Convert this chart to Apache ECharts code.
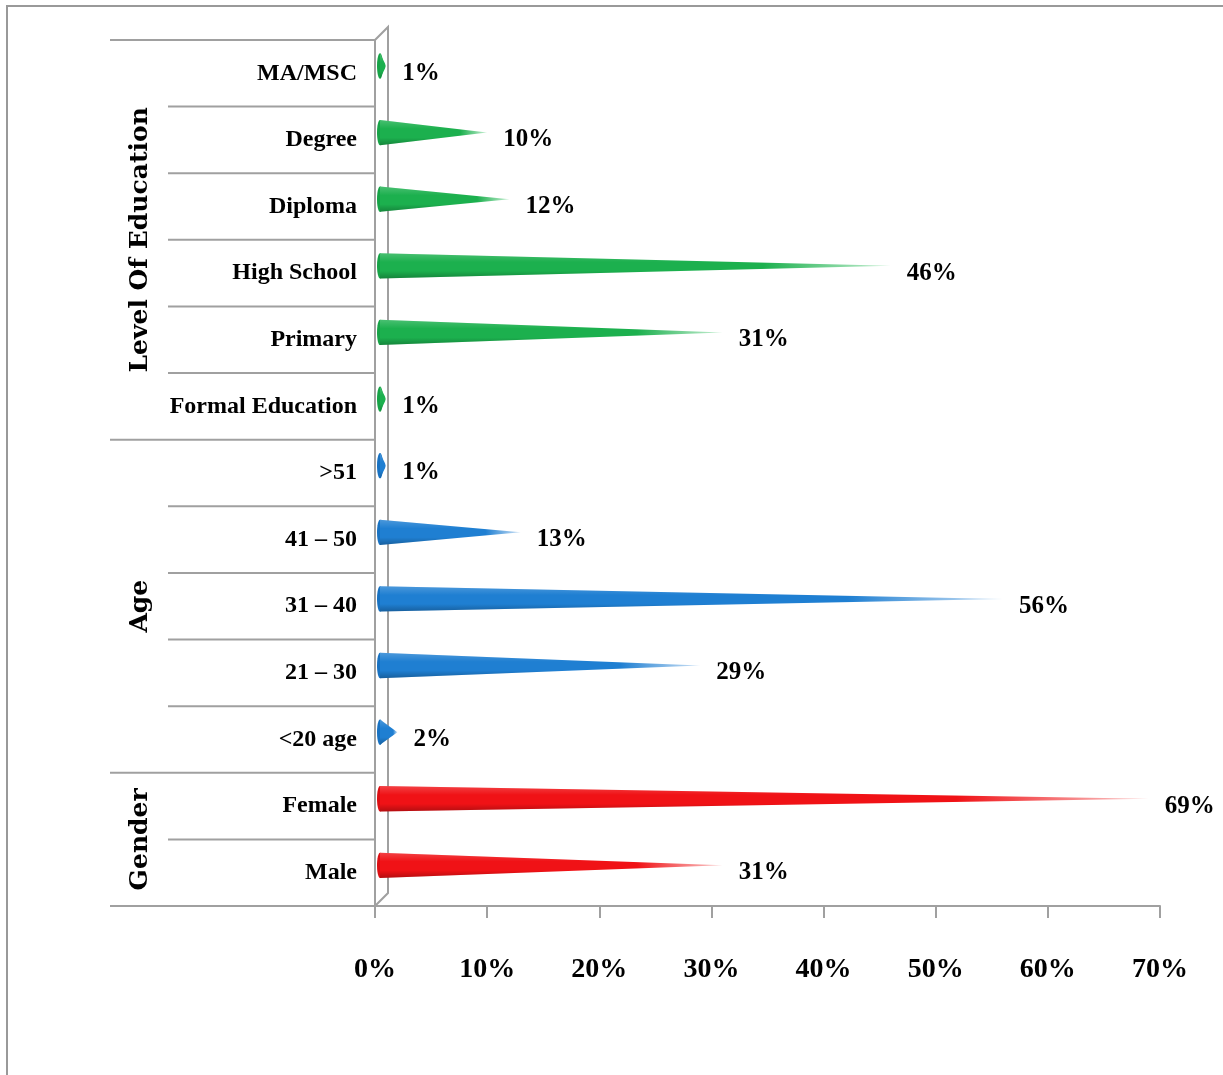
<!DOCTYPE html>
<html lang="en">
<head>
    <meta charset="utf-8">
    <script src="https://cdn.jsdelivr.net/npm/echarts@6/dist/echarts.min.js"></script>
    <title>Respondent profile</title>
    <style>
        html, body { margin: 0; padding: 0; background: #fff; }
        #main { width: 1223px; height: 1075px; }
    </style>
</head>
<body>
<div id="main"></div>
<script>
    // data, top row first
    var categories = ['MA/MSC', 'Degree', 'Diploma', 'High School', 'Primary', 'Formal Education',
        '>51', '41 – 50', '31 – 40', '21 – 30', '<20 age', 'Female', 'Male'];
    var values = [1, 10, 12, 46, 31, 1, 1, 13, 56, 29, 2, 69, 31];
    var groupNames = ['Level Of Education', 'Age', 'Gender'];
    var groupSizes = [6, 5, 2];
    var xTicks = [0, 10, 20, 30, 40, 50, 60, 70];

    var palette = [
        {base: '#17a347', mid: '#1cb04e', tip: '#c9f0d5'},
        {base: '#1872c2', mid: '#1f7fd2', tip: '#cfe3f6'},
        {base: '#dc0f13', mid: '#f01216', tip: '#fbd0d0'}
    ];

    // which group every row belongs to
    var rowGroup = [];
    groupSizes.forEach(function (n, g) {
        for (var k = 0; k < n; k++) rowGroup.push(g);
    });

    var serif = '"Liberation Serif", "Times New Roman", serif';
    var grey = '#a0a0a0';

    function renderCone(params, api) {
        var idx = api.value(0);
        var val = api.value(1);
        var p0 = api.coord([0, idx]);
        var p1 = api.coord([val, idx]);
        var band = api.size([0, 1])[1];
        var h = band * 0.38;
        var cy = p0[1] - band * 0.11;   // bars sit on the back plane
        var x0 = p0[0] + 5;
        var tipX = p1[0];
        var c = palette[rowGroup[idx]];
        return {
            type: 'group',
            children: [{
                type: 'ellipse',
                shape: {cx: x0, cy: cy, rx: Math.min(3, (tipX - x0) / 2 + 1), ry: h / 2},
                style: {fill: c.base}
            }, {
                type: 'polygon',
                shape: {points: [[x0, cy - h / 2], [tipX, cy], [x0, cy + h / 2]]},
                style: {
                    fill: new echarts.graphic.LinearGradient(0, 0, 1, 0, [
                        {offset: 0, color: c.mid},
                        {offset: 0.75, color: c.mid},
                        {offset: 1, color: c.tip}
                    ])
                }
            }, {
                type: 'polygon',
                shape: {points: [[x0, cy - h / 2], [tipX, cy], [x0, cy + h / 2]]},
                style: {
                    fill: new echarts.graphic.LinearGradient(0, 0, 0, 1, [
                        {offset: 0, color: 'rgba(255,255,255,0.2)'},
                        {offset: 0.35, color: 'rgba(255,255,255,0)'},
                        {offset: 0.7, color: 'rgba(0,0,0,0)'},
                        {offset: 1, color: 'rgba(0,0,0,0.25)'}
                    ])
                }
            }, {
                type: 'text',
                x: tipX + 16,
                y: p0[1],
                style: {
                    text: val + '%',
                    font: 'bold 25px ' + serif,
                    fill: '#000',
                    align: 'left',
                    verticalAlign: 'middle'
                }
            }]
        };
    }

    var myChart = echarts.init(document.getElementById('main'));

    var option = {
        backgroundColor: '#fff',
        animation: false,
        grid: {left: 375, right: 63, top: 40, bottom: 169},
        xAxis: {
            type: 'value',
            min: xTicks[0],
            max: xTicks[xTicks.length - 1],
            interval: 10,
            axisLine: {show: true, lineStyle: {color: grey, width: 2}},
            axisTick: {show: true, length: 12, lineStyle: {color: grey, width: 2}},
            splitLine: {show: false},
            axisLabel: {
                formatter: '{value}%',
                margin: 50,
                color: '#000',
                fontSize: 28,
                fontWeight: 'bold',
                fontFamily: serif
            }
        },
        yAxis: {
            type: 'category',
            inverse: true,
            data: categories,
            axisLine: {show: true, lineStyle: {color: grey, width: 2}},
            axisTick: {show: false},
            splitLine: {show: false},
            axisLabel: {
                margin: 18,
                color: '#000',
                fontSize: 24,
                fontWeight: 'bold',
                fontFamily: serif
            }
        },
        series: [{
            type: 'custom',
            renderItem: renderCone,
            encode: {x: 1, y: 0},
            data: values.map(function (v, i) {
                return [i, v];
            })
        }]
    };
    myChart.setOption(option);

    // row separators, group labels and the 3D wall, placed from the axis scale
    function drawFrame() {
        var c0 = myChart.convertToPixel({yAxisIndex: 0}, categories[0]);
        var c1 = myChart.convertToPixel({yAxisIndex: 0}, categories[1]);
        var rowH = c1 - c0;
        var top = c0 - rowH / 2;
        var axisX = myChart.convertToPixel({xAxisIndex: 0}, 0);
        var bottom = top + rowH * categories.length;
        var d = 13;
        var els = [];

        var groupEdges = [0];
        groupSizes.forEach(function (n) {
            groupEdges.push(groupEdges[groupEdges.length - 1] + n);
        });

        for (var i = 0; i <= categories.length; i++) {
            var y = top + i * rowH;
            var startX = groupEdges.indexOf(i) >= 0 ? 110 : 168;
            els.push({
                type: 'line',
                shape: {x1: startX, y1: y, x2: axisX, y2: y},
                style: {stroke: grey, lineWidth: 2}
            });
        }

        groupNames.forEach(function (name, g) {
            var yMid = top + rowH * (groupEdges[g] + groupEdges[g + 1]) / 2;
            els.push({
                type: 'text',
                x: 140,
                y: yMid,
                rotation: Math.PI / 2,
                style: {
                    text: name,
                    font: 'bold 25px "DejaVu Serif", serif',
                    fill: '#000',
                    align: 'center',
                    verticalAlign: 'middle'
                }
            });
        });

        // back wall of the 3D plot
        els.push({
            type: 'polyline',
            shape: {points: [[axisX, top], [axisX + d, top - d], [axisX + d, bottom - d], [axisX, bottom]]},
            style: {stroke: grey, lineWidth: 2, fill: null}
        });

        // outer frame (top and left edges)
        els.push({
            type: 'polyline',
            shape: {points: [[7, 1075], [7, 6], [1223, 6]]},
            style: {stroke: '#999', lineWidth: 2, fill: null}
        });

        myChart.setOption({graphic: {elements: els}});
    }

    drawFrame();
</script>
</html>
